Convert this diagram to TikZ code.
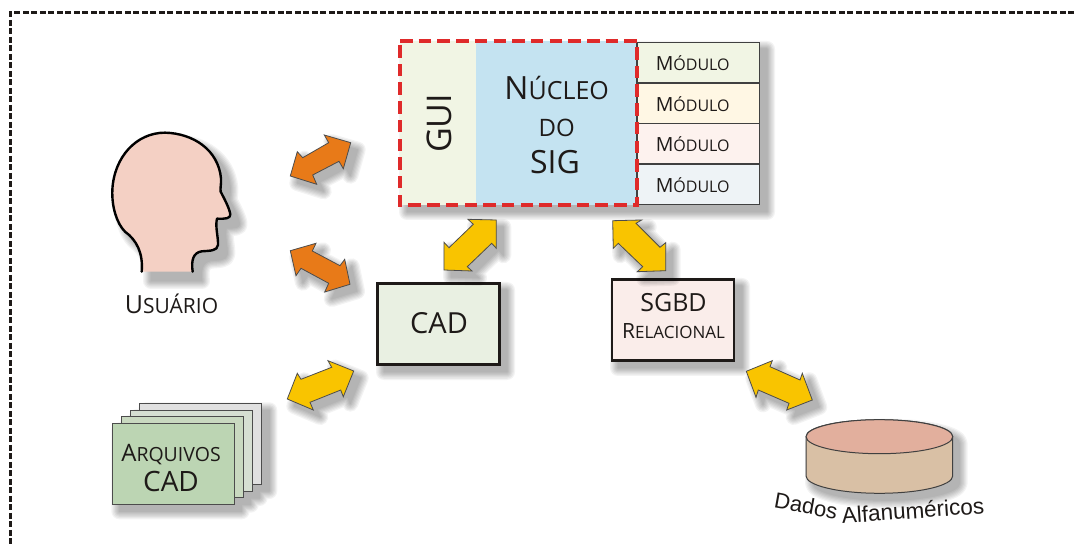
\documentclass[tikz,border=0pt]{standalone}
\usepackage{fontspec}
\setmainfont{Open Sans}
\newfontfamily\dadosfont{Liberation Sans}
\newcommand{\fs}[1]{\fontsize{#1}{#1}\selectfont}
\newcommand{\softshadow}[2][]{%
  \foreach \w in {1,3.5,6,8.5,11,13.5,16}{%
    \begin{scope}[transparency group,opacity=.048,shift={(7,7)},#1]
      \path[fill=black,draw=black,line width=\w pt,line join=round] #2;
    \end{scope}}}
\definecolor{inkc}{HTML}{1E1A18}
\definecolor{guic}{HTML}{F1F5E4}
\definecolor{corec}{HTML}{C4E3F1}
\definecolor{moda}{HTML}{F1F5E4}
\definecolor{modb}{HTML}{FFF7E4}
\definecolor{modc}{HTML}{FDF2EE}
\definecolor{modd}{HTML}{EEF3F6}
\definecolor{cadc}{HTML}{E9F0E2}
\definecolor{sgbdc}{HTML}{FAEDEA}
\definecolor{orangec}{HTML}{E87A18}
\definecolor{yellowc}{HTML}{F9C400}
\definecolor{skinc}{HTML}{F4D0C4}
\definecolor{redc}{HTML}{DF2A2A}
\tikzset{
  lbl/.style={anchor=base,inner sep=0pt,text=inkc},
  heavybox/.style={draw=inkc,line width=2.6pt,inner sep=0pt,outer sep=0pt},
  modbox/.style={draw=black!75,line width=1.3pt,inner sep=0pt,outer sep=0pt,minimum width=122.5pt,minimum height=40.5pt},
  cardbox/.style={draw=black!70,line width=1pt,inner sep=0pt,outer sep=0pt,minimum width=122.5pt,minimum height=81pt,anchor=north west},
  blockarrow/.style={draw=black!70,line width=.8pt,line join=miter},
}
\begin{document}
\begin{tikzpicture}[x=1pt,y=-1pt]
\useasboundingbox (0,0) rectangle (1074,545);
\fill[white] (0,0) rectangle (1074,545);
% frame
\coordinate (ftr) at (1074,12.5);
\coordinate (ftl) at (10.5,12.5);
\coordinate (fbl) at (10.5,545);
\draw[inkc,line width=3pt,dash pattern=on 5.6pt off 2.9pt] (ftr) -- (ftl) -- (fbl);
% GIS core and modules
\softshadow{(400,42) rectangle (760,205)}
\fill[guic] (400,41) rectangle (476,205);
\fill[corec] (476,41) rectangle (637,205);
\node[modbox,fill=moda,anchor=north west] (m1) at (637,42.5) {};
\node[modbox,fill=modb,anchor=north west] (m2) at (637,83) {};
\node[modbox,fill=modc,anchor=north west] (m3) at (637,123.5) {};
\node[modbox,fill=modd,anchor=north west] (m4) at (637,164) {};
\node[lbl] (t1) at (692.7,70.7) {\fs{19.5}M\fs{16}ÓDULO};
\node[lbl] (t2) at (692.7,111.5) {\fs{19.5}M\fs{16}ÓDULO};
\node[lbl] (t3) at (692.7,152) {\fs{19.5}M\fs{16}ÓDULO};
\node[lbl] (t4) at (692.7,192.3) {\fs{19.5}M\fs{16}ÓDULO};
\node[lbl,rotate=90] (gui) at (451.7,123.3) {\fs{34}GUI};
\node[lbl] (nuc) at (556.7,99.3) {\fs{32}N\fs{25}ÚCLEO};
\node[lbl] (doo) at (556.7,136.7) {\fs{24}DO};
\node[lbl] (sig) at (555,173.3) {\fs{32}SIG};
\draw[redc,line width=3.4pt,dash pattern=on 12.5pt off 6.2pt] (400,41) -- (637,41) -- (637,205) -- (400,205) -- cycle;
% head
\begin{scope}[shift={(90,120)},scale=1/3]
\def\headpath{(155,455) .. controls (160,400) and (140,360) .. (105,335)
  .. controls (80,310) and (65,260) .. (67,210)
  .. controls (72,110) and (140,38) .. (225,38)
  .. controls (310,40) and (385,90) .. (393,175)
  .. controls (394,195) and (390,205) .. (392,215)
  .. controls (405,240) and (418,265) .. (421,283)
  .. controls (422,296) and (405,297) .. (381,296)
  .. controls (375,320) and (385,350) .. (384,375)
  .. controls (382,393) and (360,392) .. (335,394)
  .. controls (310,398) and (303,420) .. (308,455)}
\softshadow[shift={(21,21)}]{\headpath -- cycle}
\fill[skinc] \headpath -- cycle;
\draw[black,line width=2.4pt,line join=round,line cap=round] \headpath;
\end{scope}
\node[lbl] (usr) at (171.5,313.3) {\fs{25}U\fs{21}SUÁRIO};
% CAD box
\softshadow{(377,283) rectangle (500,365)}
\node[heavybox,fill=cadc,minimum width=122pt,minimum height=81.4pt,anchor=north west] (cad) at (377.3,283.3) {};
\node[lbl] (cadt) at (439,334) {\fs{29}CAD};
% SGBD box
\softshadow{(611,279) rectangle (735,361)}
\node[heavybox,fill=sgbdc,minimum width=122pt,minimum height=81pt,anchor=north west] (sgbd) at (612,279.6) {};
\node[lbl] (sgbdt) at (673.5,311.7) {\fs{25}SGBD};
\node[lbl] (rel) at (673.5,338.3) {\fs{21}R\fs{17}ELACIONAL};
% file stack
\softshadow{(139,403.3) rectangle (262.3,484) (130,410) rectangle (252.7,491) (121,416.3) rectangle (243.7,497.7) (112.3,423.3) rectangle (234.7,504.3)}
\node[cardbox,fill=black!12!white] (c4) at (139,403.3) {};
\node[cardbox,fill={rgb,255:red,214;green,223;blue,210}] (c3) at (130,410) {};
\node[cardbox,fill={rgb,255:red,201;green,217;blue,192}] (c2) at (121,416.3) {};
\node[cardbox,fill={rgb,255:red,188;green,213;blue,179}] (c1) at (112,423.3) {};
\node[lbl] (arq) at (171,461) {\fs{24}A\fs{19.5}RQUIVOS};
\node[lbl] (arqc) at (171,491.7) {\fs{28}CAD};
% database
\def\cylpath{(806,436.7) -- (806,476) .. controls (806,485.5) and (839,493.3) .. (879.4,493.3) .. controls (920,493.3) and (952.7,485.5) .. (952.7,476) -- (952.7,436.7) .. controls (952.7,427) and (920,419.7) .. (879.4,419.7) .. controls (839,419.7) and (806,427) .. (806,436.7) -- cycle}
\softshadow{\cylpath}
\draw[fill={rgb,255:red,217;green,192;blue,165},draw=black!75,line width=1pt] \cylpath;
\draw[fill={rgb,255:red,226;green,175;blue,157},draw=black!75,line width=1pt] (879.4,436.7) ellipse [x radius=73.35,y radius=17];
\node[lbl,rotate=-10.3] (dados) at (804.7,513.5) {\dadosfont\fs{22}Dados};
\node[lbl,rotate=4] (alfa) at (913.5,518.5) {\dadosfont\fs{22.5}Alfanuméricos};
% block arrows
\def\aOne{(290.3,176) -- (297.3,151.7) -- (302.7,157.7) -- (328.7,142.7) -- (324.3,135) -- (350.7,142.7) -- (343.3,168.7) -- (339,161.3) -- (312.7,175) -- (316.7,184.3) -- cycle}
\def\aTwo{(290.3,250.7) -- (316,243.3) -- (312.3,251) -- (340,265.7) -- (344.7,259.3) -- (350,284.3) -- (324.7,292) -- (328.7,283.3) -- (301,268.3) -- (296,275.7) -- cycle}
\def\aThree{(287.3,399) -- (297.3,373.3) -- (301,379.3) -- (331.7,367.3) -- (328,360.7) -- (353.7,371) -- (343.3,396.7) -- (340.7,390) -- (310,402.3) -- (313.3,410) -- cycle}
\def\aFour{(444,270) -- (444,242.3) -- (449,247.7) -- (473.3,224.3) -- (468,219.3) -- (496.3,220) -- (496.3,248.3) -- (491.7,243.3) -- (467.3,266.7) -- (472,271) -- cycle}
\def\aFive{(612.7,220.7) -- (641.7,220) -- (636,223.3) -- (660,247.3) -- (665.7,242.7) -- (665.7,270.7) -- (637.3,271.7) -- (642.7,266.7) -- (618.3,243.3) -- (613.3,248.3) -- cycle}
\def\aSix{(746.3,371.3) -- (772.3,360.7) -- (770,366.7) -- (800,380) -- (802.3,373.3) -- (812.3,400) -- (786.7,410) -- (789,403.3) -- (758.3,390) -- (756,397.3) -- cycle}
\softshadow{\aOne}
\softshadow{\aTwo}
\softshadow{\aThree}
\softshadow{\aFour}
\softshadow{\aFive}
\softshadow{\aSix}
\draw[blockarrow,fill=orangec] \aOne;
\draw[blockarrow,fill=orangec] \aTwo;
\draw[blockarrow,fill=yellowc] \aThree;
\draw[blockarrow,fill=yellowc] \aFour;
\draw[blockarrow,fill=yellowc] \aFive;
\draw[blockarrow,fill=yellowc] \aSix;
\end{tikzpicture}
\end{document}
